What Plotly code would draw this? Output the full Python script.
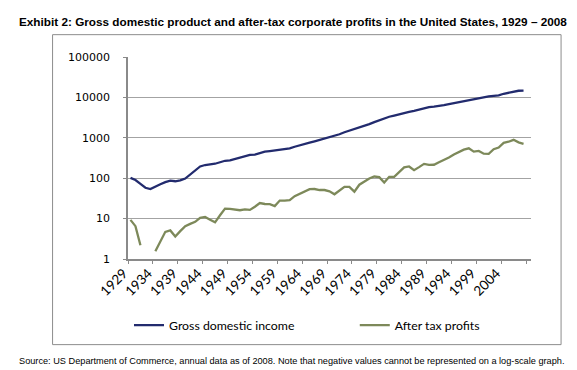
import plotly.graph_objects as go

years = list(range(1929, 2009))

gross_domestic_income = [
    102, 90, 72, 58, 54, 63, 71, 80, 87, 84,
    88, 98, 123, 158, 195, 212, 218, 228, 248, 270,
    275, 295, 325, 352, 380, 385, 420, 452, 468, 488,
    515, 528, 545, 600, 640, 690, 755, 820, 885, 960,
    1035, 1115, 1225, 1370, 1490, 1630, 1770, 1950, 2180, 2450,
    2750, 3020, 3320, 3560, 3850, 4170, 4400, 4660, 5020, 5430,
    5750, 5900, 6100, 6450, 6840, 7250, 7680, 8140, 8620, 9130,
    9670, 10350, 10550, 10900, 11200, 12300, 13200, 14000, 14600, 14700,
]

after_tax_profits = [
    9.3, 6.5, 2.2, None, None, 1.55, 2.75, 4.7, 5.1, 3.6,
    4.9, 6.5, 7.4, 8.3, 10.4, 11.0, 9.4, 8.1, 12.1, 17.7,
    17.4, 16.4, 16.1, 17.0, 16.4, 19.6, 24.2, 23.0, 22.7, 20.4,
    27.9, 27.9, 28.5, 35.8, 40.7, 47.6, 53.5, 54.0, 51.0, 51.0,
    47.5, 40.0, 49.5, 61.0, 61.0, 46.5, 69.0, 84.0, 98.0, 110.0,
    106.0, 78.0, 108.0, 108.0, 145.0, 185.0, 195.0, 158.0, 188.0, 226.0,
    213.0, 215.0, 247.0, 280.0, 325.0, 385.0, 440.0, 510.0, 550.0, 455.0,
    472.0, 405.0, 400.0, 520.0, 575.0, 750.0, 800.0, 890.0, 770.0, 710.0,
]

label_years = list(range(1929, 2005, 5))
label_text = [str(y) for y in label_years]
boundary_ticks = [1928.5 + 5 * k for k in range(17)]
y_ticks = [1, 10, 100, 1000, 10000, 100000]
y_text = ["1", "10", "100", "1000", "10000", "100000"]

title_text = ("Exhibit 2: Gross domestic product and after-tax corporate profits "
              "in the United States, 1929 \u2013 2008")
source_text = ("Source: US Department of Commerce, annual data as of 2008. "
               "Note that negative values cannot be represented on a log-scale graph.")

W, H = 577, 370
PL, PR, PT, PB = 120.0, 523.4, 49.3, 251.0


def px2x(px):
    return (px - PL) / (PR - PL)


def py2y(py):
    return (PB - py) / (PB - PT)


GDI_COLOR = "#222B6E"
PROFIT_COLOR = "#7D895A"
GRID = "#A3A3A3"
AXIS = "#8A8A8A"

fig = go.Figure()
fig.add_trace(go.Scatter(
    x=years, y=gross_domestic_income, mode="lines", name="Gross domestic income",
    line=dict(color=GDI_COLOR, width=2.3), legend="legend",
))
fig.add_trace(go.Scatter(
    x=years, y=after_tax_profits, mode="lines", name="After tax profits",
    line=dict(color=PROFIT_COLOR, width=2.3), connectgaps=False, legend="legend2",
))

legend_common = dict(
    orientation="h", xanchor="left", yanchor="middle",
    font=dict(family="Lato", size=12.3, color="#000000"),
    bgcolor="rgba(0,0,0,0)", borderwidth=0, itemwidth=30,
)

fig.update_layout(
    width=W, height=H,
    margin=dict(l=PL, r=W - PR, t=PT, b=H - PB, pad=0, autoexpand=False),
    paper_bgcolor="white", plot_bgcolor="white",
    font=dict(family="Lato", color="#000000", size=12),
    showlegend=True,
    legend=dict(x=px2x(121), y=py2y(317), **legend_common),
    legend2=dict(x=px2x(347), y=py2y(317), **legend_common),
    xaxis=dict(
        range=[1928.5, 2009.5], tickmode="array", tickvals=boundary_ticks,
        showticklabels=False, ticks="outside", ticklen=3, tickcolor=AXIS,
        showgrid=False, zeroline=False, showline=True, linecolor=AXIS, linewidth=1.5,
    ),
    xaxis2=dict(
        range=[1928.5, 2009.5], overlaying="x", anchor="y", side="bottom",
        tickmode="array", tickvals=label_years, ticktext=label_text,
        tickangle=-45, ticks="", showgrid=False, zeroline=False, showline=False,
        tickfont=dict(family="Lato", size=13.5, color="#000000"),
        ticklabelstandoff=3, ticklabelshift=-7,
    ),
    yaxis=dict(
        type="log", range=[0, 5], tickmode="array", tickvals=y_ticks, ticktext=y_text,
        showgrid=True, gridcolor=GRID, gridwidth=1,
        showline=True, linecolor=AXIS, linewidth=1.5,
        ticks="outside", ticklen=3, tickcolor=AXIS, zeroline=False,
        tickfont=dict(family="DejaVu Sans", size=11, color="#000000"),
        ticklabelstandoff=11,
    ),
    shapes=[dict(
        type="rect", xref="paper", yref="paper",
        x0=px2x(44.5), x1=px2x(553.5), y0=py2y(336.5), y1=py2y(27),
        line=dict(color="#8C8C8C", width=1), fillcolor="rgba(0,0,0,0)", layer="below",
    )],
    annotations=[
        dict(text="<b>" + title_text + "</b>", xref="paper", yref="paper",
             x=px2x(9), y=py2y(14), xanchor="left", yanchor="middle", showarrow=False,
             font=dict(family="Liberation Sans", size=11.75, color="#000000")),
        dict(text=source_text, xref="paper", yref="paper",
             x=px2x(9), y=py2y(353), xanchor="left", yanchor="middle", showarrow=False,
             font=dict(family="Liberation Sans", size=9.2, color="#000000")),
    ],
)

# invisible helper trace so the label axis (x2) is drawn
fig.add_trace(go.Scatter(x=[1929], y=[1], xaxis="x2", mode="markers",
                         marker=dict(opacity=0), showlegend=False, hoverinfo="skip"))

fig.write_html("out.html")
